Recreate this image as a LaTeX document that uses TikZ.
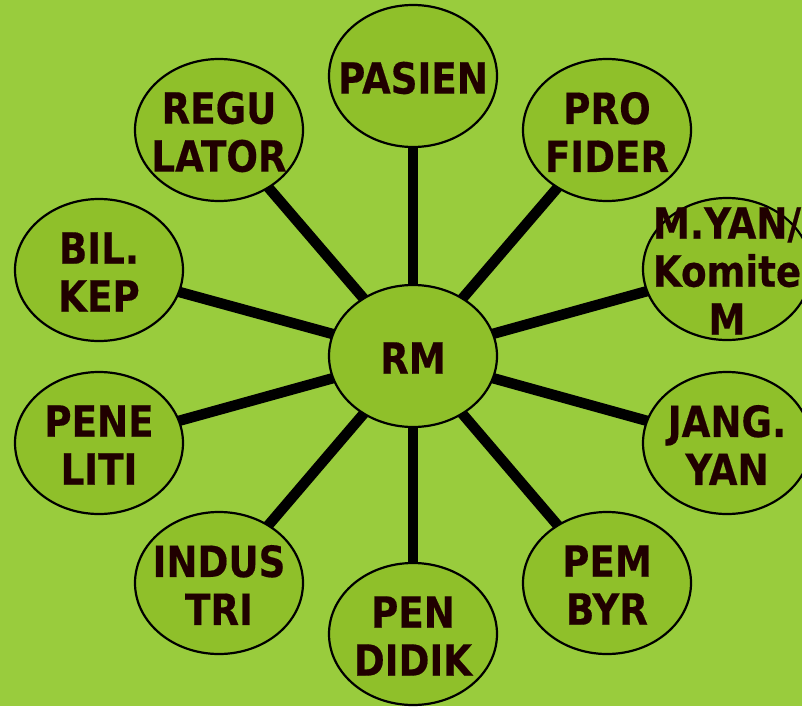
\documentclass[tikz,border=0pt]{standalone}
\usepackage{fontspec}
\setmainfont{DejaVu Sans}[FakeStretch=0.865,BoldFeatures={FakeBold=0.4}]
\usetikzlibrary{shapes.geometric,backgrounds}
\definecolor{bgc}{HTML}{99CC3D}
\definecolor{ellc}{HTML}{8FC02A}
\definecolor{txtc}{HTML}{200000}
\tikzset{
  bubble/.style={ellipse,draw=black,line width=2.2pt,fill=ellc,minimum width=168pt,minimum height=142pt,inner sep=0pt},
  lbl/.style={text=txtc,font=\fontsize{43}{48}\selectfont\bfseries,align=center,inner sep=0pt},
  spoke/.style={line width=10.5pt,black}
}
\begin{document}
\begin{tikzpicture}[x=1pt,y=-1pt]
\useasboundingbox (0,0) rectangle (802,706);
\node[bubble] (rm) at (413,356) {};
\node[bubble] (pasien) at (413,76) {};
\node[bubble] (profider) at (607,130) {};
\node[bubble] (regulator) at (219,130) {};
\node[bubble] (bilkep) at (99,270) {};
\node[bubble] (myan) at (727,269) {};
\node[bubble] (peneliti) at (99,443) {};
\node[bubble] (jangyan) at (727,443) {};
\node[bubble] (industri) at (219,583) {};
\node[bubble] (pembyr) at (607,583) {};
\node[bubble] (pendidik) at (413,634) {};
\node[lbl] (trm) at ([yshift=-2pt]rm) {RM};
\node[lbl] (tpasien) at ([yshift=-2pt]pasien) {PASIEN};
\node[lbl] (tprofider) at ([yshift=-2pt]profider) {PRO\\FIDER};
\node[lbl] (tregulator) at ([yshift=-2pt]regulator) {REGU\\LATOR};
\node[lbl] (tbilkep) at ([yshift=-2pt]bilkep) {BIL.\\KEP};
\node[lbl] (tmyan) at ([yshift=-2pt]myan) {M.YAN/\\Komite\\M};
\node[lbl] (tpeneliti) at ([yshift=-2pt]peneliti) {PENE\\LITI};
\node[lbl] (tjangyan) at ([yshift=-2pt]jangyan) {JANG.\\YAN};
\node[lbl] (tindustri) at ([yshift=-2pt]industri) {INDUS\\TRI};
\node[lbl] (tpembyr) at ([yshift=-2pt]pembyr) {PEM\\BYR};
\node[lbl] (tpendidik) at ([yshift=-2pt]pendidik) {PEN\\DIDIK};
\begin{scope}[on background layer]
\fill[bgc] (0,0) rectangle (802,706);
\foreach \n in {pasien,profider,regulator,bilkep,myan,peneliti,jangyan,industri,pembyr,pendidik}
  \draw[spoke] (rm.center) -- (\n.center);
\end{scope}
\end{tikzpicture}
\end{document}
